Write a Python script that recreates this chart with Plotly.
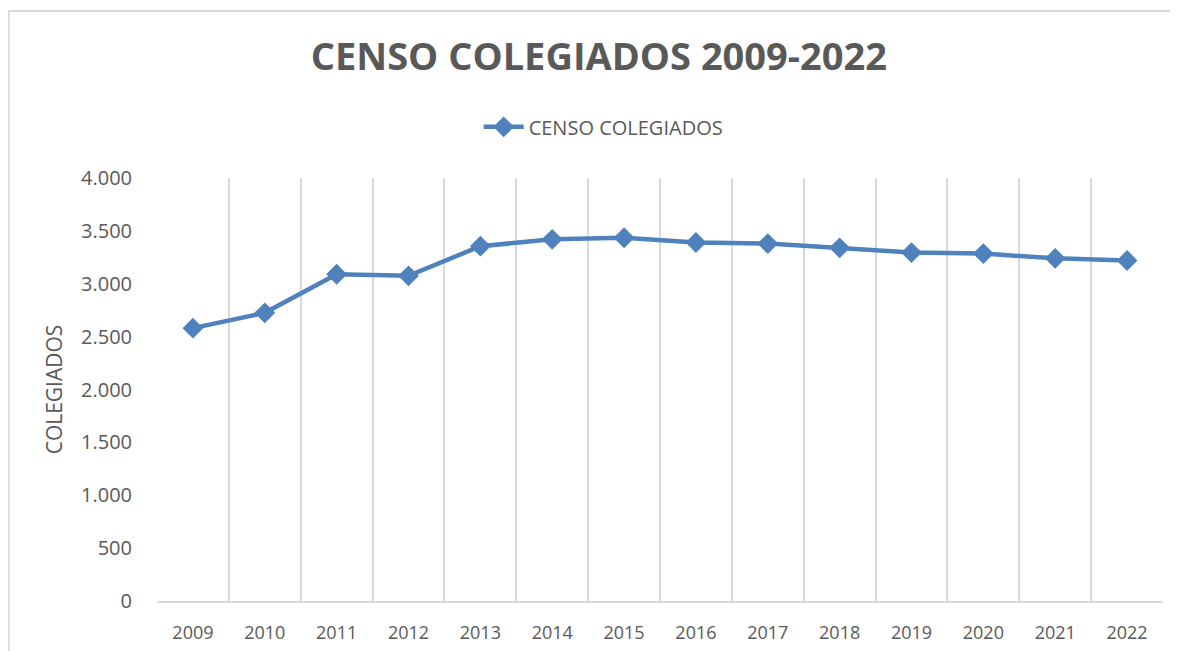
import plotly.graph_objects as go

years = ["2009", "2010", "2011", "2012", "2013", "2014", "2015",
         "2016", "2017", "2018", "2019", "2020", "2021", "2022"]
colegiados = [2580, 2725, 3090, 3075, 3355, 3420, 3435,
              3390, 3380, 3340, 3295, 3285, 3240, 3220]
y_ticks = [0, 500, 1000, 1500, 2000, 2500, 3000, 3500, 4000]

FONT = "Open Sans"
GREY = "#595959"
LINE = "#4F81BD"
GRID = "#d9d9d9"

fig = go.Figure()
fig.add_trace(go.Scatter(
    x=years, y=colegiados, mode="lines+markers", name="CENSO COLEGIADOS",
    line=dict(color=LINE, width=4.5),
    marker=dict(symbol="diamond", size=16, color=LINE),
))

fig.update_layout(
    width=1170, height=643,
    margin=dict(l=149, r=15, t=170, b=50),
    paper_bgcolor="white", plot_bgcolor="white",
    separators=",.",
    title=dict(text="<b>CENSO COLEGIADOS 2009-2022</b>",
               x=0.505, xanchor="center", y=0.924, yanchor="middle",
               font=dict(family=FONT, size=38, color=GREY)),
    legend=dict(orientation="h", x=0.444, xanchor="center", y=1.121, yanchor="middle",
                font=dict(family=FONT, size=20, color=GREY), itemwidth=40),
    showlegend=True,
    xaxis=dict(type="category", tickson="boundaries", range=[-0.5, 13.5],
               automargin=False, showgrid=True,
               gridcolor=GRID, gridwidth=1.5,
               showline=True, linecolor=GRID, linewidth=1.5,
               ticks="", ticklabelstandoff=15,
               tickfont=dict(family=FONT, size=18, color=GREY)),
    yaxis=dict(range=[0, 4000], tickvals=y_ticks, tickformat=",d",
               automargin=False,
               showgrid=False, zeroline=False, showline=False,
               ticks="", ticklabelstandoff=24,
               tickfont=dict(family=FONT, size=20, color=GREY),
               title=dict(text="COLEGIADOS", standoff=12,
                          font=dict(family=FONT, size=21, color=GREY))),
    shapes=[dict(type="rect", xref="paper", yref="paper",
                 x0=(8.7 - 157) / 1006, x1=1.05,
                 y0=-0.3, y1=(601 - 11) / 423,
                 line=dict(color=GRID, width=2), layer="below")],
)

fig.write_html("out.html")
